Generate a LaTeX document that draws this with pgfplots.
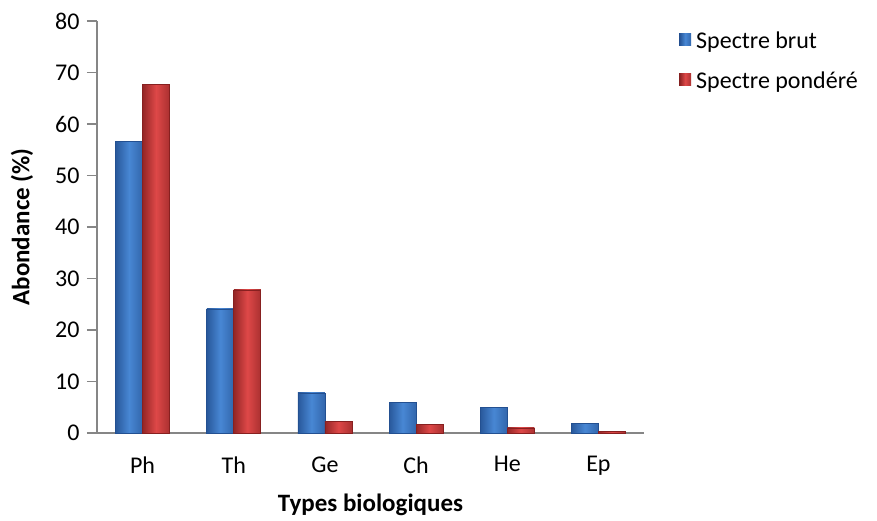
\documentclass[border=0pt]{standalone}
\usepackage{fontspec}
\setmainfont{Carlito}
\usepackage{pgfplots}
\pgfplotsset{compat=1.18}
\definecolor{bluemid}{RGB}{72,135,212}
\definecolor{bluedark}{RGB}{35,80,145}
\definecolor{redmid}{RGB}{222,72,72}
\definecolor{reddark}{RGB}{135,32,32}
\definecolor{axgray}{RGB}{134,134,134}
\pgfplotsset{
  bbar/.style={ybar, forget plot, bar width=27pt, bar shift=-13.5pt, draw=bluedark, line width=0.6pt,
    left color=bluedark!85!bluemid, right color=bluedark!60!bluemid, middle color=bluemid},
  rbar/.style={ybar, forget plot, bar width=27pt, bar shift=13.5pt, draw=reddark, line width=0.6pt,
    left color=reddark!85!redmid, right color=reddark!60!redmid, middle color=redmid},
}
\begin{document}
\begin{tikzpicture}
\begin{axis}[
  name=ax,
  scale only axis,
  width=547pt, height=412pt,
  xmin=-0.5, xmax=5.5, ymin=0, ymax=80,
  xtick={0,1,2,3,4,5}, xticklabels={Ph,Th,Ge,Ch,He,Ep},
  ytick={0,10,...,80},
  axis x line=bottom, axis y line=left,
  axis line style={-, axgray, line width=1.6pt},
  x tick style={draw=none},
  y tick style={axgray, line width=1.4pt},
  tick align=outside, major tick length=10pt,
  /pgf/number format/assume math mode=true,
  tick label style={font=\fontsize{24}{28}\selectfont},
  yticklabel style={xshift=-4pt},
  xticklabel style={yshift=-10pt},
  ylabel={\textbf{Abondance (\%)}},
  xlabel={\textbf{Types biologiques}},
  label style={font=\fontsize{25}{29}\selectfont},
  ylabel style={at={(axis description cs:-0.137,0.5)}, anchor=center, rotate=0},
  xlabel style={at={(axis description cs:0.5,-0.175)}, anchor=center},
  legend style={at={(axis description cs:1.064,0.98)}, anchor=north west, draw=none,
    font=\fontsize{24}{28}\selectfont, row sep=18pt, inner sep=0pt,
    legend cell align=left, nodes={inner xsep=5pt}},
  legend image code/.code={\path[#1, draw=none] (0pt,-5pt) rectangle (12pt,7pt);},
]
\addlegendimage{left color=bluedark, right color=bluedark!60!bluemid, middle color=bluemid}
\addlegendentry{Spectre brut}
\addlegendimage{left color=reddark, right color=reddark!60!redmid, middle color=redmid}
\addlegendentry{Spectre pondéré}
\addplot[bbar] coordinates {(0,56.6)};
\addplot[bbar] coordinates {(1,24.1)};
\addplot[bbar] coordinates {(2,7.8)};
\addplot[bbar] coordinates {(3,6.0)};
\addplot[bbar] coordinates {(4,5.0)};
\addplot[bbar] coordinates {(5,1.9)};
\addplot[rbar] coordinates {(0,67.7)};
\addplot[rbar] coordinates {(1,27.8)};
\addplot[rbar] coordinates {(2,2.3)};
\addplot[rbar] coordinates {(3,1.7)};
\addplot[rbar] coordinates {(4,1.0)};
\addplot[rbar] coordinates {(5,0.25)};
\end{axis}
\path ([shift={(-97pt,-87pt)}]ax.south west) rectangle ([shift={(233pt,21pt)}]ax.north east);
\end{tikzpicture}
\end{document}
